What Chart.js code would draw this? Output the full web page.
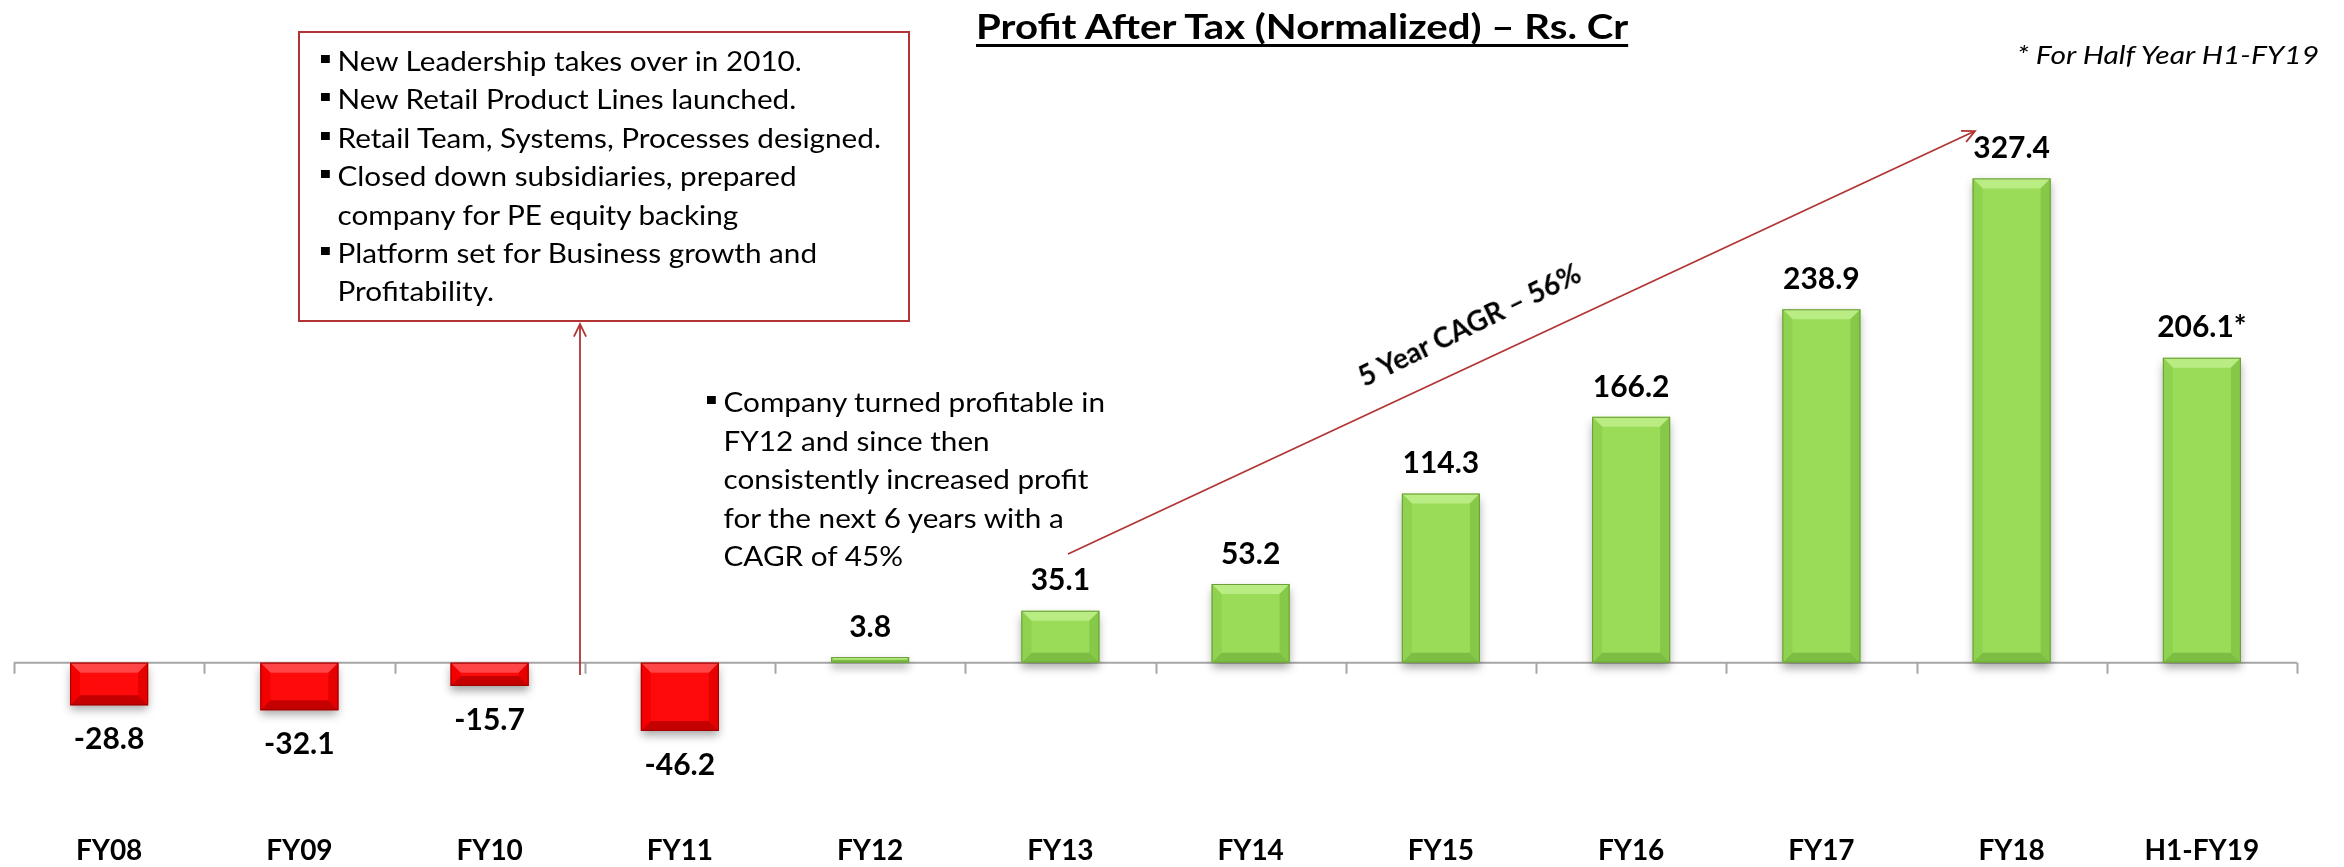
<!DOCTYPE html>
<html>
<head>
<meta charset="utf-8">
<script src="https://cdn.jsdelivr.net/npm/chart.js@4.4.1/dist/chart.umd.min.js"></script>
<style>
  body { margin: 0; background: #fff; font-family: Lato, sans-serif; color: #000; }
  #wrap { position: relative; width: 2344px; height: 867px; overflow: hidden; }
  #chart { position: absolute; left: 0; top: 0; }
  .wide { transform-origin: 0 0; white-space: nowrap; }
  .title { position: absolute; left: 976px; top: 9px; font-weight: bold; font-size: 34px; line-height: 1;
           text-decoration: underline; text-decoration-thickness: 3px; text-underline-offset: 5px; transform: scaleX(1.18); }
  .note { position: absolute; left: 2017px; top: 42px; font-style: italic; font-size: 25px; line-height: 1; transform: scaleX(1.2); }
  .box { position: absolute; left: 298px; top: 31px; width: 612px; height: 291px; box-sizing: border-box;
         border: 2.5px solid #b23434; padding: 9px 0 0 20.5px; }
  .box .wide { font-size: 27px; line-height: 38.4px; transform: scaleX(1.1); }
  .plain { position: absolute; left: 707px; top: 383px; font-size: 27px; line-height: 38.5px; transform: scaleX(1.1); }
  .item { position: relative; padding-left: 15px; white-space: nowrap; }
  .item:before { content: ""; position: absolute; left: 0; top: 13px; width: 7.5px; height: 8px; background: #000; }
  .cagr { position: absolute; left: 1469px; top: 324px; transform: translate(-50%, -50%) rotate(-26deg);
          font-weight: bold; font-size: 28px; white-space: nowrap; }
</style>
</head>
<body>
<div id="wrap">
  <canvas id="chart" width="2344" height="867"></canvas>
  <div class="title wide">Profit After Tax (Normalized) – Rs. Cr</div>
  <div class="note wide">* For Half Year H1-FY19</div>
  <div class="box">
    <div class="wide">
      <div class="item">New Leadership takes over in 2010.</div>
      <div class="item">New Retail Product Lines launched.</div>
      <div class="item">Retail Team, Systems, Processes designed.</div>
      <div class="item">Closed down subsidiaries, prepared<br>company for PE equity backing</div>
      <div class="item">Platform set for Business growth and<br>Profitability.</div>
    </div>
  </div>
  <div class="plain wide">
    <div class="item">Company turned profitable in<br>FY12 and since then<br>consistently increased profit<br>for the next 6 years with a<br>CAGR of 45%</div>
  </div>
  <div class="cagr">5 Year CAGR – 56%</div>
</div>
<script>
// data
var years = ['FY08', 'FY09', 'FY10', 'FY11', 'FY12', 'FY13', 'FY14', 'FY15', 'FY16', 'FY17', 'FY18', 'H1-FY19'];
var profit = [-28.8, -32.1, -15.7, -46.2, 3.8, 35.1, 53.2, 114.3, 166.2, 238.9, 327.4, 206.1];
var labelMark = ['', '', '', '', '', '', '', '', '', '', '', '*'];

var green = { base: '#9adb58', top: '#b9ec83', bottom: '#7cbd43', left: '#8fd24f', right: '#86c949', edge: '#6c9c3c' };
var red = { base: '#ff0a0a', top: '#ff4545', bottom: '#c40000', left: '#f40000', right: '#e60000', edge: '#9c0000' };

function quad(ctx, pts, color) {
  ctx.beginPath();
  ctx.moveTo(pts[0], pts[1]);
  for (var i = 2; i < pts.length; i += 2) ctx.lineTo(pts[i], pts[i + 1]);
  ctx.closePath();
  ctx.fillStyle = color;
  ctx.fill();
}

function arrow(ctx, x1, y1, x2, y2) {
  var a = Math.atan2(y2 - y1, x2 - x1);
  ctx.beginPath();
  ctx.moveTo(x1, y1);
  ctx.lineTo(x2, y2);
  ctx.moveTo(x2 - 14 * Math.cos(a - 0.45), y2 - 14 * Math.sin(a - 0.45));
  ctx.lineTo(x2, y2);
  ctx.lineTo(x2 - 14 * Math.cos(a + 0.45), y2 - 14 * Math.sin(a + 0.45));
  ctx.stroke();
}

var extras = {
  id: 'extras',
  beforeDatasetsDraw: function(chart) {
    var ctx = chart.ctx, x = chart.scales.x, y = chart.scales.y;
    var y0 = y.getPixelForValue(0);
    var half = (x.getPixelForValue(1) - x.getPixelForValue(0)) / 2;
    ctx.save();
    ctx.strokeStyle = '#a6a6a6';
    ctx.lineWidth = 2;
    ctx.beginPath();
    ctx.moveTo(chart.chartArea.left, y0);
    ctx.lineTo(chart.chartArea.right, y0);
    for (var i = 0; i <= years.length; i++) {
      var px = Math.round(x.getPixelForValue(i) - half) + 0.5;
      ctx.moveTo(px, y0);
      ctx.lineTo(px, y0 + 11);
    }
    ctx.stroke();
    ctx.restore();
    // soft shadow under the bars
    ctx.save();
    ctx.shadowColor = 'rgba(0,0,0,0.35)';
    ctx.shadowBlur = 9;
    ctx.shadowOffsetY = 5;
  },
  afterDatasetsDraw: function(chart) {
    var ctx = chart.ctx;
    ctx.restore();
    var bars = chart.getDatasetMeta(0).data;
    ctx.save();
    bars.forEach(function(bar, i) {
      var p = bar.getProps(['x', 'y', 'base', 'width'], true);
      var c = profit[i] < 0 ? red : green;
      var l = p.x - p.width / 2, r = p.x + p.width / 2;
      var t = Math.min(p.y, p.base), b = Math.max(p.y, p.base);
      var d = Math.min(10, (b - t) / 2, (r - l) / 2);
      quad(ctx, [l, t, r, t, r - d, t + d, l + d, t + d], c.top);
      quad(ctx, [l, b, r, b, r - d, b - d, l + d, b - d], c.bottom);
      quad(ctx, [l, t, l + d, t + d, l + d, b - d, l, b], c.left);
      quad(ctx, [r, t, r - d, t + d, r - d, b - d, r, b], c.right);
      ctx.strokeStyle = c.edge;
      ctx.lineWidth = 1;
      ctx.strokeRect(l + 0.5, t + 0.5, r - l - 1, b - t - 1);
      // value label
      ctx.fillStyle = '#000';
      ctx.font = 'bold 30px Lato';
      ctx.textAlign = 'center';
      ctx.textBaseline = 'middle';
      var ly = profit[i] < 0 ? p.y + 34 : p.y - 30;
      ctx.fillText(profit[i].toFixed(1) + labelMark[i], p.x, ly);
    });
    ctx.restore();
  },
  afterDraw: function(chart) {
    var ctx = chart.ctx;
    ctx.save();
    ctx.strokeStyle = '#b23434';
    ctx.lineWidth = 1.8;
    arrow(ctx, 580, 675, 580, 324);
    arrow(ctx, 1068, 554, 1975, 131);
    ctx.restore();
  }
};

new Chart(document.getElementById('chart'), {
  type: 'bar',
  data: {
    labels: years,
    datasets: [{
      data: profit,
      backgroundColor: function(c) { return c.raw < 0 ? red.base : green.base; },
      borderWidth: 0,
      categoryPercentage: 1,
      barPercentage: 0.41
    }]
  },
  options: {
    responsive: false,
    animation: false,
    layout: { padding: { left: 14, right: 47, top: 71, bottom: 0 } },
    plugins: { legend: { display: false }, tooltip: { enabled: false } },
    scales: {
      x: {
        grid: { display: false, drawTicks: false },
        border: { display: false },
        ticks: { color: '#000', font: { family: 'Lato', size: 28, weight: 'bold', lineHeight: 1 }, padding: 2, maxRotation: 0, autoSkip: false }
      },
      y: { display: false, min: -116.5, max: 400 }
    }
  },
  plugins: [extras]
});
</script>
</body>
</html>
